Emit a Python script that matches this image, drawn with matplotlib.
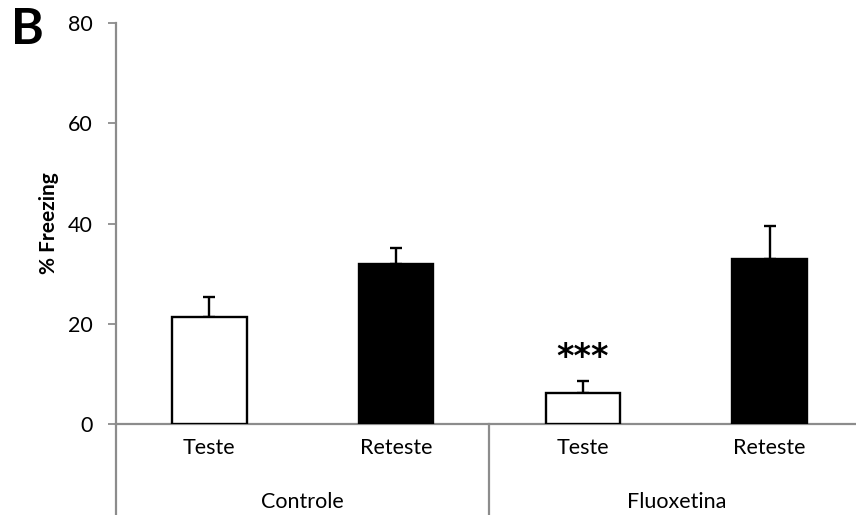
import numpy as np
import matplotlib.pyplot as plt

# dados
grupos = ["Controle", "Fluoxetina"]
condicoes = ["Teste", "Reteste", "Teste", "Reteste"]
medias = [21.4, 32.0, 6.2, 33.0]
erros = [3.9, 3.2, 2.3, 6.6]
cores = ["white", "black", "white", "black"]

cinza = "#8c8c8c"
plt.rcParams["font.family"] = ["Lato", "DejaVu Sans"]

fig = plt.figure(figsize=(8.56, 5.15), dpi=100)
ax = fig.add_axes([116 / 856, 91 / 515, (863 - 116) / 856, 401 / 515])

x = np.arange(len(condicoes)) + 0.5
ax.bar(x, medias, width=0.4, color=cores, edgecolor="black", linewidth=1.7, zorder=3)
ax.errorbar(x, medias, yerr=[np.zeros(len(erros)), erros], fmt="none",
            ecolor="black", elinewidth=1.7, capsize=4.5, capthick=1.7, zorder=2)

ax.set_xlim(0, 4)
ax.set_ylim(0, 80)
ax.set_yticks([0, 20, 40, 60, 80])
ax.set_xticks(x)
ax.set_xticklabels(condicoes)
ax.tick_params(axis="y", length=6, width=1.3, color=cinza, labelsize=15.5, pad=11)
ax.tick_params(axis="x", length=0, labelsize=15.5, pad=10)

for lado in ["top", "right"]:
    ax.spines[lado].set_visible(False)
for lado in ["left", "bottom"]:
    ax.spines[lado].set_color(cinza)
    ax.spines[lado].set_linewidth(1.6)

# linhas que separam os grupos embaixo do eixo
trans = ax.get_xaxis_transform()
for xs in [0, 2, 4]:
    ax.plot([xs, xs], [0, -0.25], color=cinza, lw=1.6, transform=trans, clip_on=False)

for i, g in enumerate(grupos):
    ax.text(2 * i + 1, -0.195, g, transform=trans, ha="center", va="center", fontsize=15.5)

ax.text(x[2], 13.2, "***", ha="center", va="center", fontsize=24, fontweight="bold",
        family="DejaVu Sans")

ax.set_ylabel("% Freezing", fontsize=15, fontweight="bold", labelpad=6)
fig.text(11 / 856, 1 - 30 / 515, "B", fontsize=36, fontweight="bold", va="center", ha="left")

fig.savefig("out.png", dpi=100)
